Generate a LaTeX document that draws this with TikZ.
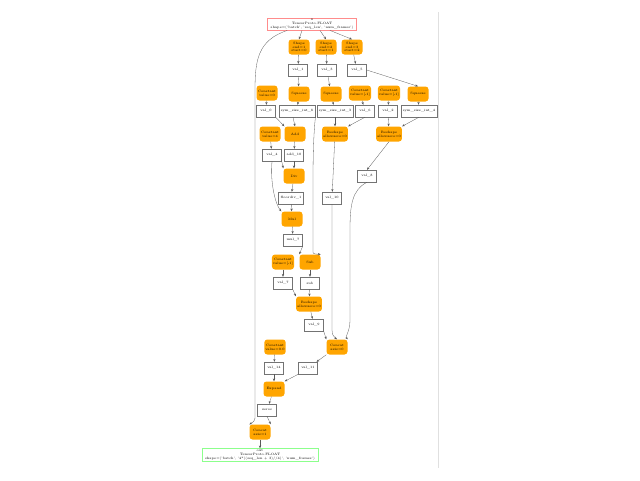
\documentclass[tikz,border=0pt]{standalone}
\usetikzlibrary{arrows.meta}
\definecolor{opfill}{RGB}{255,165,0}
\begin{document}
\begin{tikzpicture}[x=1pt,y=-1pt,
    every node/.style={font=\fontsize{3.3}{3.8}\selectfont, align=center},
    op/.style={fill=opfill, rounded corners=3pt, minimum width=21pt, minimum height=15pt, inner sep=1pt},
    tensor/.style={draw=black!55, line width=0.4pt, fill=white, minimum width=19pt, minimum height=12pt, inner xsep=2pt, inner ysep=1pt},
    inbox/.style={draw=red!45, line width=0.6pt, fill=white, inner xsep=3pt, inner ysep=1.2pt},
    outbox/.style={draw=green!45, line width=0.6pt, fill=white, inner xsep=3pt, inner ysep=1.2pt},
    flow/.style={draw=black!65, line width=0.3pt, -{Stealth[length=2.8pt,width=2.2pt]}}]
    \useasboundingbox (0,0) rectangle (640,480);
    %% frame edge
    \draw[black!12, line width=0.5pt] (438,12) -- (438,468);
    %% Input
    \node[inbox] (x) at (312,24) {x\\TensorProto.FLOAT\\shape=('batch', 'seq\_len', 'num\_frames')};
    %% Shapes
    \node[op] (shapeA) at (299,47) {Shape\\end=1\\start=0};
    \node[op] (shapeB) at (326,47) {Shape\\end=2\\start=1};
    \node[op] (shapeC) at (352,47) {Shape\\end=3\\start=2};
    \node[tensor] (val1) at (298,70) {val\_1};
    \node[tensor] (val3) at (327,70) {val\_3};
    \node[tensor] (val5) at (357,70) {val\_5};
    %% Squeeze row
    \node[op] (cstA) at (267,93) {Constant\\value=0};
    \node[op] (sqzA) at (299,94) {Squeeze};
    \node[op] (sqzB) at (331,94) {Squeeze};
    \node[op] (cstB) at (360,93) {Constant\\value=[-1]};
    \node[op] (cstC) at (389,93) {Constant\\value=[-1]};
    \node[op] (sqzC) at (418,94) {Squeeze};
    \node[tensor] (val0) at (266,111) {val\_0};
    \node[tensor] (size8) at (297,111) {sym\_size\_int\_8};
    \node[tensor] (size3) at (335,111) {sym\_size\_int\_3};
    \node[tensor] (val6) at (365,111) {val\_6};
    \node[tensor] (val2) at (388,111) {val\_2};
    \node[tensor] (size4) at (419,111) {sym\_size\_int\_4};
    %% Add / Reshape row
    \node[op] (cstD) at (270,134) {Constant\\value=4};
    \node[op] (add) at (295,134) {Add};
    \node[op] (rshA) at (335,134) {Reshape\\allowzero=0};
    \node[op] (rshB) at (389,134) {Reshape\\allowzero=0};
    \node[tensor] (val4) at (272,155) {val\_4};
    \node[tensor] (add10) at (294,155) {add\_10};
    \node[op] (div) at (294,176) {Div};
    \node[tensor] (val8) at (367,176) {val\_8};
    \node[tensor] (floordiv) at (291,198) {floordiv\_1};
    \node[tensor] (val10) at (332,198) {val\_10};
    \node[op] (mul) at (292,219) {Mul};
    \node[tensor] (mul7) at (293,240) {mul\_7};
    %% Sub
    \node[op] (cstE) at (283,262) {Constant\\value=[-1]};
    \node[op] (sub) at (310,262) {Sub};
    \node[tensor] (val7) at (283,283) {val\_7};
    \node[tensor] (subout) at (310,283) {sub};
    \node[op] (rshC) at (309,304) {Reshape\\allowzero=0};
    \node[tensor] (val9) at (314,325) {val\_9};
    %% Concat / Expand
    \node[op] (catA) at (337,347) {Concat\\axis=0};
    \node[op] (cstF) at (275,347) {Constant\\value=0.0};
    \node[tensor] (val14) at (274,368) {val\_14};
    \node[tensor] (val11) at (308,368) {val\_11};
    \node[op] (expand) at (274,389) {Expand};
    \node[tensor] (zeros) at (267,410) {zeros};
    \node[op] (catB) at (260,432) {Concat\\axis=1};
    %% Output
    \node[outbox] (out) at (260,455) {out\\TensorProto.FLOAT\\shape=('batch', '4*((seq\_len + 3)//4)', 'num\_frames')};
    %% Edges
    \draw[flow] (x.south) ++(-10,0) -- (shapeA.north);
    \draw[flow] (x.south) ++(8,0) -- (shapeB.north);
    \draw[flow] (x.south) ++(18,0) -- (shapeC.north);
    \draw[flow] (x.south west) ++(20,0) .. controls (258,40) and (255,60) .. (255,90) -- (255,410) .. controls (255,418) and (256,421) .. (catB.north west);
    \draw[flow] (shapeA) -- (val1);
    \draw[flow] (shapeB) -- (val3);
    \draw[flow] (shapeC) -- (val5);
    \draw[flow] (val1) -- (sqzA);
    \draw[flow] (val3) -- (sqzB);
    \draw[flow] (val5.east) -- (sqzC.north);
    \draw[flow] (cstA) -- (val0);
    \draw[flow] (sqzA) -- (size8);
    \draw[flow] (sqzB) -- (size3);
    \draw[flow] (cstB) -- (val6);
    \draw[flow] (cstC) -- (val2);
    \draw[flow] (sqzC) -- (size4);
    \draw[flow] (val0.south east) -- (add.north west);
    \draw[flow] (size8.south) ++(-4,0) -- (add.north);
    \draw[flow] (size8.south east) .. controls (314,130) and (313,150) .. (313,180) -- (313,250) .. controls (313,253) and (312,254) .. (sub.north east);
    \draw[flow] (size3) -- (rshA);
    \draw[flow] (val6.south) -- (rshA.north east);
    \draw[flow] (val2) -- (rshB);
    \draw[flow] (size4.south) -- (rshB.north east);
    \draw[flow] (cstD) -- (val4);
    \draw[flow] (add) -- (add10);
    \draw[flow] (val4.south east) -- (div.north west);
    \draw[flow] (add10) -- (div);
    \draw[flow] (val4.south) .. controls (270,185) and (276,205) .. (mul.north west);
    \draw[flow] (div) -- (floordiv);
    \draw[flow] (floordiv) -- (mul);
    \draw[flow] (mul) -- (mul7);
    \draw[flow] (mul7.south east) -- (sub.north west);
    \draw[flow] (rshA) -- (val10);
    \draw[flow] (rshB.south) -- (val8.north);
    \draw[flow] (cstE) -- (val7);
    \draw[flow] (sub) -- (subout);
    \draw[flow] (val7.south east) -- (rshC.north west);
    \draw[flow] (subout) -- (rshC);
    \draw[flow] (rshC) -- (val9);
    \draw[flow] (val9.south east) -- (catA.north west);
    \draw[flow] (val10.south) -- (332,330) .. controls (332,335) and (334,337) .. (catA.north);
    \draw[flow] (val8.south) .. controls (352,190) and (350,205) .. (350,230) -- (350,320) .. controls (350,332) and (345,336) .. (catA.north east);
    \draw[flow] (catA) -- (val11);
    \draw[flow] (cstF) -- (val14);
    \draw[flow] (val14) -- (expand);
    \draw[flow] (val11.south west) -- (expand.north east);
    \draw[flow] (expand) -- (zeros);
    \draw[flow] (zeros.south) -- (catB.north east);
    \draw[flow] (catB) -- (out);
\end{tikzpicture}
\end{document}
